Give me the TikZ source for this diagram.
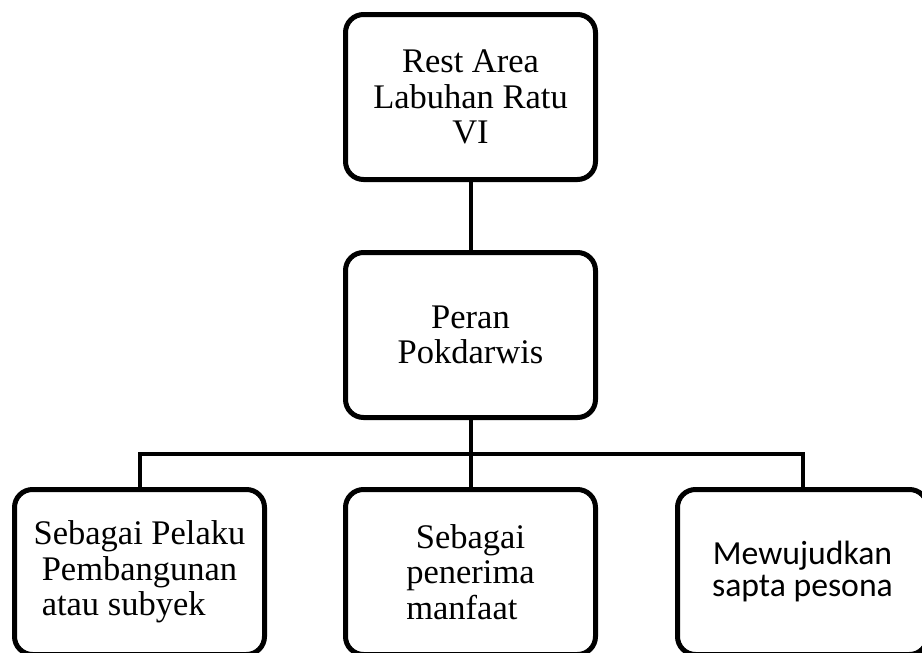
\documentclass[tikz,border=0pt]{standalone}
\usepackage{fontspec}
\setmainfont{Liberation Serif}
\newfontfamily\calibrifont{Carlito}
\usepackage{calc}
\usetikzlibrary{positioning,calc}
\newcommand\BoxW{250pt}
\newcommand\BoxH{165pt}
\tikzset{
  orgbox/.style={
    shape = rectangle,
    draw,
    line width = 5pt,
    rounded corners = 18pt,
    minimum width = \BoxW,
    minimum height = \BoxH,
    inner sep = 0pt,
    align = center,
    font = \fontsize{34.5}{35.5}\selectfont
  },
  sansbox/.style={
    orgbox,
    font = \calibrifont\fontsize{33.7}{32}\selectfont
  },
  link/.style={
    line width = 4pt
  }
}
\begin{document}
\begin{tikzpicture}[x=1pt,y=1pt]
    \useasboundingbox (0,0) rectangle (922,-653);
    \node[orgbox] (rest) at (470.5,-97) {Rest Area\\Labuhan Ratu\\VI};
    \node[orgbox, below=68pt of rest] (peran) {Peran\\Pokdarwis};
    \node[orgbox, below=67pt of peran] (penerima) {Sebagai\\penerima\\\makebox[\widthof{penerima}][l]{manfaat}};
    \node[orgbox, left=76pt of penerima] (pelaku) {Sebagai Pelaku\\Pembangunan\\\makebox[\widthof{Pembangunan}][l]{atau subyek}};
    \node[sansbox, right=77pt of penerima] (pesona) {Mewujudkan\\sapta pesona};

    \draw[link] (rest) -- (peran);
    \draw[link] (peran) -- (penerima);
    \coordinate (bus) at ($(peran.south)!0.5!(penerima.north)$);
    \draw[link] (pelaku.north) |- (bus) -| (pesona.north);
\end{tikzpicture}
\end{document}
